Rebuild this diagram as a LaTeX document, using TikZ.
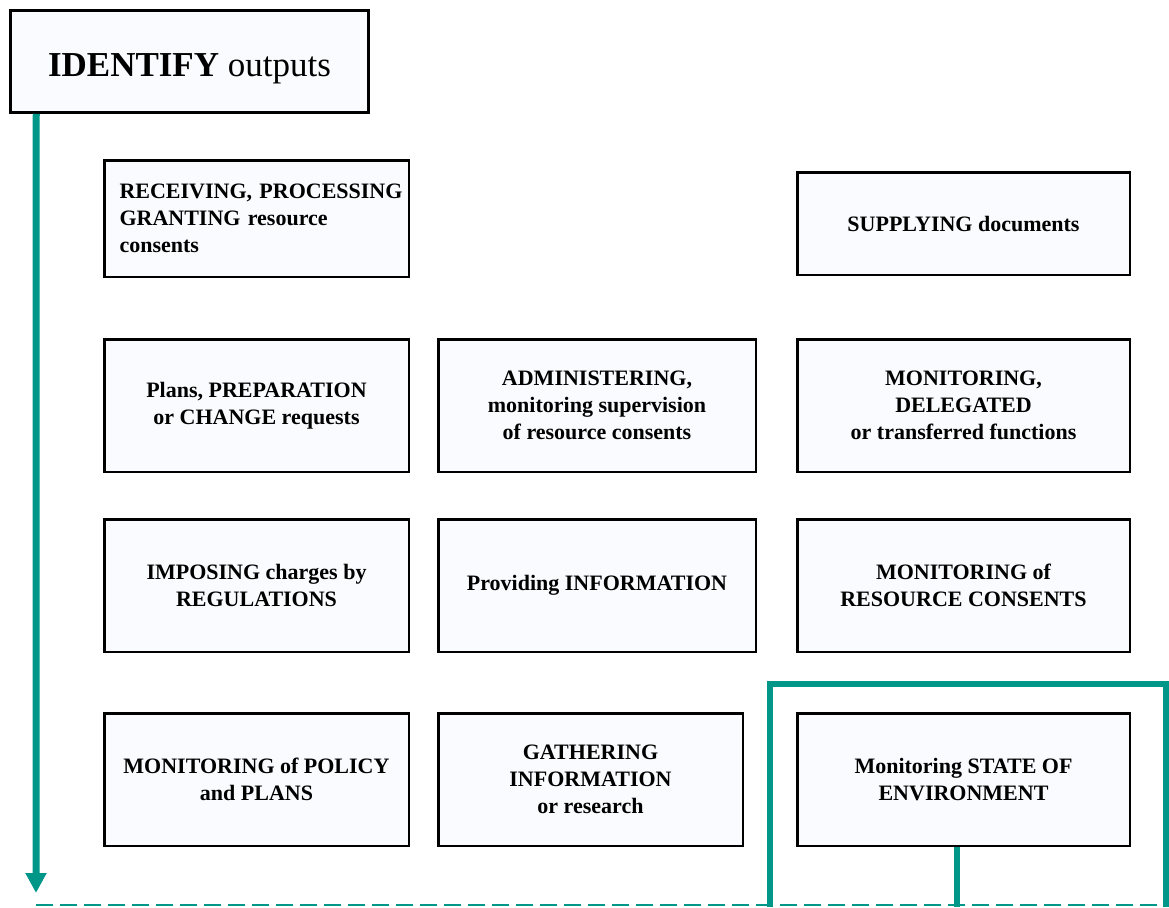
\documentclass[tikz,border=0pt]{standalone}
\usepackage{fontspec}
\setmainfont{Liberation Serif}
\usetikzlibrary{arrows.meta,calc}
\definecolor{teal1}{RGB}{0,150,136}
\definecolor{boxfill}{RGB}{250,251,254}
\tikzset{
  box/.style={draw=black, line width=2.5pt, fill=boxfill, rectangle, inner sep=0pt,
    align=center, font=\fontsize{22}{27}\selectfont\bfseries},
  tealline/.style={draw=teal1, line width=6pt},
  dashline/.style={draw=teal1, line width=2pt, dash pattern=on 17pt off 7pt}
}
\begin{document}
\begin{tikzpicture}[x=1pt,y=-1pt]
\useasboundingbox (0,0) rectangle (1169,907);
% title
\node[box, minimum width=358pt, minimum height=102pt, text height=30pt, text depth=1pt,
  font=\fontsize{35}{40}\selectfont] (id) at (189.5,61.5) {\textbf{IDENTIFY} outputs};
% row 1
\node[box, minimum width=304.5pt, minimum height=116.5pt, align=left, text width=300pt] (rec) at (256.5,218.5)
  {\hspace*{13pt}RECEIVING, PROCESSING\\\hspace*{13pt}GRANTING resource\\\hspace*{13pt}consents};
\node[box, minimum width=332.5pt, minimum height=102.5pt] (sup) at (963.5,223.5) {SUPPLYING documents};
% row 2
\node[box, minimum width=304.5pt, minimum height=132.5pt] (plans) at (256.5,405.5) {\raisebox{0pt}[\height][\depth]{}Plans, PREPARATION\\ or CHANGE requests};
\node[box, minimum width=317.5pt, minimum height=132.5pt] (admin) at (597,405.5) {ADMINISTERING,\\monitoring supervision\\of resource consents};
\node[box, minimum width=332.5pt, minimum height=132.5pt] (deleg) at (963.5,405.5) {MONITORING,\\DELEGATED\\or transferred functions};
% row 3
\node[box, minimum width=304.5pt, minimum height=132.5pt] (impose) at (256.5,585.5) {IMPOSING charges by\\REGULATIONS};
\node[box, minimum width=317.5pt, minimum height=132.5pt] (provide) at (597,585.5) {Providing INFORMATION};
\node[box, minimum width=332.5pt, minimum height=132.5pt] (monres) at (963.5,585.5) {MONITORING of\\RESOURCE CONSENTS};
% row 4
\node[box, minimum width=304.5pt, minimum height=132.5pt] (policy) at (256.5,779.5) {MONITORING of POLICY\\and PLANS};
\node[box, minimum width=304.5pt, minimum height=132.5pt] (gather) at (590.5,779.5) {GATHERING\\INFORMATION\\or research};
\node[box, minimum width=332.5pt, minimum height=132.5pt] (env) at (963.5,779.5) {Monitoring STATE OF\\ENVIRONMENT};
% connectors
\coordinate (arrstart) at ($(id.south west)+(27,0)$);
\coordinate (arrend) at (36,893);
\coordinate (dashstart) at (36,905);
\coordinate (dashend) at (1169,905);
\draw[tealline, line width=7pt, -{Triangle[width=20pt,length=20pt]}] (arrstart) -- (arrend);
\draw[dashline] (dashstart) -- (dashend);
\coordinate (fl) at (770,907);
\coordinate (fr) at (1166,907);
\draw[tealline] (fl) -- (770,684) -- (1166,684) -- (fr);
\coordinate (stubend) at (957,907);
\draw[tealline] ($(env.south)+(-6.5,0)$) -- (stubend);
\end{tikzpicture}
\end{document}
